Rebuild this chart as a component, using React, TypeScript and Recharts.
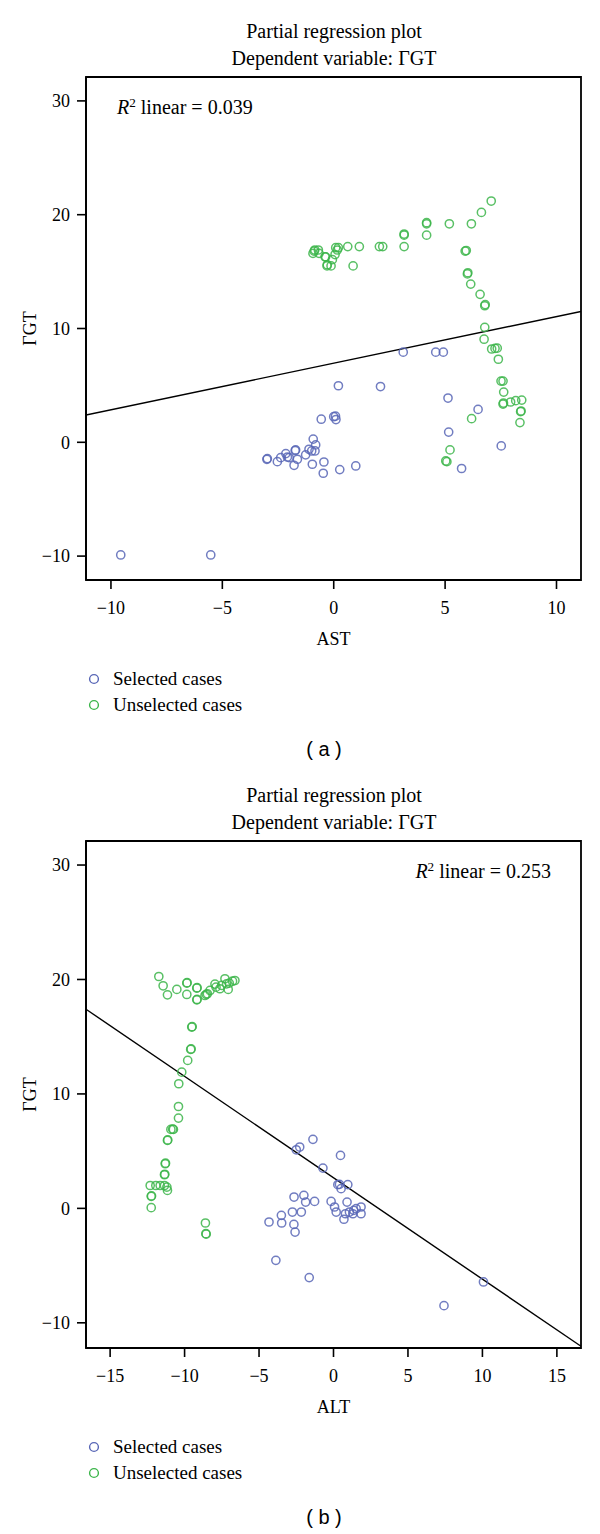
import {
  ReferenceArea,
  ReferenceLine,
  Scatter,
  ScatterChart,
  XAxis,
  YAxis,
} from "recharts";

type Pt = { x: number; y: number };

const astTicks = [-10, -5, 0, 5, 10];
const altTicks = [-15, -10, -5, 0, 5, 10, 15];
const ggtTicks = [-10, 0, 10, 20, 30];

const astDomain: [number, number] = [-11.12, 11.1];
const altDomain: [number, number] = [-16.62, 16.62];
const ggtDomainA: [number, number] = [-12.1, 32.1];
const ggtDomainB: [number, number] = [-12.2, 32.1];

// panel (a): AST
const astSelected: Pt[] = [
  { x: -9.56, y: -9.9 }, { x: -5.52, y: -9.9 },
  { x: 0.21, y: 4.97 }, { x: 2.1, y: 4.9 },
  { x: 3.12, y: 7.92 }, { x: 4.58, y: 7.92 }, { x: 4.92, y: 7.92 },
  { x: 5.13, y: 3.89 }, { x: 6.48, y: 2.89 }, { x: 5.16, y: 0.9 },
  { x: 7.52, y: -0.32 }, { x: 5.74, y: -2.3 },
  { x: -0.56, y: 2.03 }, { x: 0.0, y: 2.25 }, { x: 0.08, y: 2.3 }, { x: 0.1, y: 2.0 },
  { x: -0.92, y: 0.28 }, { x: -0.81, y: -0.23 }, { x: -0.99, y: -0.76 },
  { x: -0.84, y: -0.76 }, { x: -1.11, y: -0.61 }, { x: -1.26, y: -1.1 },
  { x: -1.71, y: -0.67 }, { x: -1.73, y: -0.72 }, { x: -1.63, y: -1.49 },
  { x: -1.78, y: -2.02 }, { x: -2.0, y: -1.35 }, { x: -2.08, y: -1.29 },
  { x: -2.15, y: -0.99 }, { x: -2.38, y: -1.35 }, { x: -2.53, y: -1.7 },
  { x: -2.98, y: -1.43 }, { x: -3.0, y: -1.5 },
  { x: -0.96, y: -1.93 }, { x: -0.44, y: -1.73 }, { x: -0.47, y: -2.72 },
  { x: 0.27, y: -2.4 }, { x: 0.99, y: -2.08 },
];

const astUnselected: Pt[] = [
  { x: 7.07, y: 21.2 }, { x: 6.63, y: 20.2 }, { x: 6.18, y: 19.2 },
  { x: 5.19, y: 19.2 }, { x: 4.17, y: 19.2 }, { x: 4.17, y: 19.3 },
  { x: 4.17, y: 18.2 }, { x: 3.16, y: 18.2 }, { x: 3.16, y: 18.3 },
  { x: 3.16, y: 17.2 }, { x: 2.05, y: 17.2 }, { x: 2.2, y: 17.2 },
  { x: 1.15, y: 17.2 }, { x: 0.63, y: 17.2 },
  { x: 0.21, y: 17.1 }, { x: 0.16, y: 16.9 }, { x: 0.09, y: 17.1 },
  { x: 0.06, y: 16.5 }, { x: -0.06, y: 16.05 }, { x: -0.12, y: 15.5 },
  { x: -0.3, y: 15.5 }, { x: -0.29, y: 15.6 }, { x: -0.39, y: 16.3 },
  { x: -0.36, y: 16.3 }, { x: -0.69, y: 16.9 }, { x: -0.93, y: 16.6 },
  { x: -0.85, y: 16.9 }, { x: -0.88, y: 16.8 }, { x: -0.66, y: 16.6 },
  { x: 0.87, y: 15.5 },
  { x: 5.9, y: 16.8 }, { x: 5.95, y: 16.85 }, { x: 6.0, y: 14.8 },
  { x: 6.02, y: 14.9 }, { x: 6.15, y: 13.9 }, { x: 6.57, y: 13.0 },
  { x: 6.78, y: 12.0 }, { x: 6.8, y: 12.1 }, { x: 6.78, y: 10.1 },
  { x: 6.75, y: 9.06 },
  { x: 7.09, y: 8.2 }, { x: 7.24, y: 8.25 }, { x: 7.34, y: 8.27 },
  { x: 7.39, y: 7.3 }, { x: 7.51, y: 5.38 }, { x: 7.6, y: 5.38 },
  { x: 7.63, y: 4.41 }, { x: 7.6, y: 3.36 }, { x: 7.62, y: 3.45 },
  { x: 7.94, y: 3.54 }, { x: 8.17, y: 3.66 }, { x: 8.44, y: 3.71 },
  { x: 8.39, y: 2.69 }, { x: 8.41, y: 2.75 }, { x: 8.36, y: 1.73 },
  { x: 6.19, y: 2.08 }, { x: 5.22, y: -0.67 }, { x: 5.03, y: -1.64 },
  { x: 5.08, y: -1.7 },
];

const astFit: Pt[] = [
  { x: -11.12, y: 2.4 },
  { x: 11.1, y: 11.5 },
];

// panel (b): ALT
const altSelected: Pt[] = [
  { x: -1.38, y: 6.03 }, { x: -2.5, y: 5.12 }, { x: -2.27, y: 5.36 },
  { x: 0.47, y: 4.63 }, { x: -0.71, y: 3.52 },
  { x: 0.29, y: 2.07 }, { x: 0.4, y: 2.1 }, { x: 0.51, y: 1.72 }, { x: 0.96, y: 2.07 },
  { x: -2.65, y: 0.99 }, { x: -1.99, y: 1.14 }, { x: -1.87, y: 0.55 },
  { x: -1.27, y: 0.61 }, { x: -0.16, y: 0.61 }, { x: 0.07, y: 0.12 },
  { x: 0.91, y: 0.55 }, { x: 0.18, y: -0.32 }, { x: 0.8, y: -0.47 },
  { x: 1.07, y: -0.32 }, { x: 1.36, y: -0.17 }, { x: 1.52, y: -0.03 },
  { x: 1.85, y: 0.12 }, { x: 1.85, y: -0.47 }, { x: 1.3, y: -0.47 },
  { x: 0.7, y: -0.95 },
  { x: -2.16, y: -0.32 }, { x: -2.76, y: -0.32 }, { x: -3.5, y: -0.61 },
  { x: -4.33, y: -1.19 }, { x: -3.48, y: -1.28 }, { x: -2.66, y: -1.4 },
  { x: -2.58, y: -2.07 }, { x: -3.87, y: -4.54 }, { x: -1.63, y: -6.05 },
  { x: 10.07, y: -6.43 }, { x: 7.42, y: -8.5 },
];

const altUnselected: Pt[] = [
  { x: -11.73, y: 20.26 }, { x: -11.44, y: 19.45 }, { x: -11.15, y: 18.66 },
  { x: -10.52, y: 19.13 }, { x: -9.85, y: 19.68 }, { x: -9.83, y: 19.72 },
  { x: -9.85, y: 18.69 }, { x: -9.18, y: 19.24 }, { x: -9.16, y: 19.28 },
  { x: -9.18, y: 18.22 }, { x: -9.16, y: 18.26 },
  { x: -8.63, y: 18.6 }, { x: -8.47, y: 18.75 }, { x: -8.55, y: 18.7 },
  { x: -8.29, y: 19.04 }, { x: -7.96, y: 19.6 }, { x: -7.89, y: 19.33 },
  { x: -7.63, y: 19.19 }, { x: -7.51, y: 19.48 }, { x: -7.29, y: 20.06 },
  { x: -7.18, y: 19.62 }, { x: -7.0, y: 19.68 }, { x: -7.07, y: 19.13 },
  { x: -6.78, y: 19.85 }, { x: -6.62, y: 19.91 },
  { x: -9.52, y: 15.84 }, { x: -9.49, y: 15.88 }, { x: -9.59, y: 13.89 },
  { x: -9.56, y: 13.93 }, { x: -9.79, y: 12.93 }, { x: -10.19, y: 11.9 },
  { x: -10.39, y: 10.89 }, { x: -10.41, y: 8.9 }, { x: -10.41, y: 7.89 },
  { x: -10.92, y: 6.9 }, { x: -10.75, y: 6.9 }, { x: -10.8, y: 6.92 },
  { x: -11.15, y: 5.94 }, { x: -11.13, y: 5.98 }, { x: -11.3, y: 3.9 },
  { x: -11.28, y: 3.95 }, { x: -11.35, y: 2.94 }, { x: -11.33, y: 2.98 },
  { x: -12.31, y: 2.0 }, { x: -11.93, y: 2.0 }, { x: -11.64, y: 2.0 },
  { x: -11.35, y: 2.0 }, { x: -11.19, y: 1.86 }, { x: -11.15, y: 1.57 },
  { x: -12.24, y: 1.05 }, { x: -12.22, y: 1.09 }, { x: -12.24, y: 0.06 },
  { x: -8.6, y: -1.28 }, { x: -8.57, y: -2.21 }, { x: -8.55, y: -2.25 },
];

const altFit: Pt[] = [
  { x: -16.62, y: 17.4 },
  { x: 16.62, y: -12.05 },
];

const BLUE = "#5866b6";
const GREEN = "#3cb54a";
const SERIF = '"Liberation Serif", "Times New Roman", serif';
const SANS = '"Liberation Sans", Arial, sans-serif';

const fmtTick = (v: number) => (v < 0 ? `\u2212${-v}` : `${v}`);

function ring(color: string) {
  return (p: any) => (
    <circle
      cx={p.cx}
      cy={p.cy}
      r={4.1}
      fill="none"
      stroke={color}
      strokeOpacity={0.85}
      strokeWidth={1.5}
    />
  );
}

type PanelProps = {
  height: number;
  plotHeight: number;
  xLabel: string;
  xDomain: [number, number];
  xTicks: number[];
  yDomain: [number, number];
  selected: Pt[];
  unselected: Pt[];
  fit: Pt[];
  r2: string;
  r2Right: boolean;
  caption: string;
};

function Panel(props: PanelProps) {
  const { height, plotHeight, xDomain, yDomain } = props;
  const boxTop = 77;
  const boxBottom = boxTop + plotHeight;
  const axisH = 70;

  return (
    <div style={{ position: "relative", width: 600, height, fontFamily: SERIF, color: "#000" }}>
      <ScatterChart
        width={600}
        height={height}
        margin={{ top: boxTop, right: 19, bottom: height - boxBottom - axisH, left: 0 }}
      >
        <ReferenceArea
          x1={xDomain[0]}
          x2={xDomain[1]}
          y1={yDomain[0]}
          y2={yDomain[1]}
          fill="none"
          stroke="#000"
          strokeWidth={1.8}
        />
        <XAxis
          type="number"
          dataKey="x"
          domain={xDomain}
          ticks={props.xTicks}
          allowDataOverflow
          height={axisH}
          tickSize={9}
          tickMargin={12}
          tickFormatter={fmtTick}
          axisLine={{ stroke: "#000", strokeWidth: 1.8 }}
          tickLine={{ stroke: "#000", strokeWidth: 1.6 }}
          tick={{ fill: "#000", fontSize: 18, fontFamily: SERIF }}
          label={{
            value: props.xLabel,
            position: "insideTop",
            offset: 52,
            fill: "#000",
            fontSize: 18,
            fontFamily: SERIF,
          }}
        />
        <YAxis
          type="number"
          dataKey="y"
          domain={yDomain}
          ticks={ggtTicks}
          allowDataOverflow
          width={86}
          tickSize={9}
          tickMargin={7}
          tickFormatter={fmtTick}
          axisLine={{ stroke: "#000", strokeWidth: 1.8 }}
          tickLine={{ stroke: "#000", strokeWidth: 1.6 }}
          tick={{ fill: "#000", fontSize: 18, fontFamily: SERIF }}
          label={{
            value: "\u0393GT",
            angle: -90,
            position: "insideLeft",
            offset: 30,
            fill: "#000",
            fontSize: 18,
            fontFamily: SERIF,
            style: { textAnchor: "middle" },
          }}
        />
        <ReferenceLine
          segment={props.fit}
          stroke="#000"
          strokeWidth={1.4}
          ifOverflow="hidden"
        />
        <Scatter data={props.selected} isAnimationActive={false} shape={ring(BLUE)} />
        <Scatter data={props.unselected} isAnimationActive={false} shape={ring(GREEN)} />
      </ScatterChart>

      <div
        style={{
          position: "absolute",
          left: 0,
          top: 18,
          width: 668,
          textAlign: "center",
          fontSize: 20,
          lineHeight: "27px",
          pointerEvents: "none",
        }}
      >
        <div>Partial regression plot</div>
        <div>Dependent variable: {"\u0393"}GT</div>
      </div>

      <div
        style={{
          position: "absolute",
          top: boxTop + 30 - 12,
          lineHeight: "24px",
          fontSize: 20,
          whiteSpace: "nowrap",
          ...(props.r2Right ? { right: 600 - 551 } : { left: 117 }),
        }}
      >
        <i>R</i>
        <span style={{ fontSize: "0.66em", position: "relative", top: "-0.55em" }}>2</span>{" "}
        linear = {props.r2}
      </div>

      {[
        { label: "Selected cases", color: BLUE, dy: 98.5 },
        { label: "Unselected cases", color: GREEN, dy: 124.5 },
      ].map((item) => (
        <div
          key={item.label}
          style={{
            position: "absolute",
            left: 88,
            top: boxBottom + item.dy - 12,
            height: 24,
            display: "flex",
            alignItems: "center",
            fontSize: 19,
            whiteSpace: "nowrap",
          }}
        >
          <svg width={12} height={12} style={{ marginRight: 13 }}>
            <circle cx={6} cy={6} r={4.4} fill="none" stroke={item.color} strokeWidth={1.4} />
          </svg>
          <span>{item.label}</span>
        </div>
      ))}

      <div
        style={{
          position: "absolute",
          left: 224,
          width: 200,
          top: boxBottom + 169 - 14,
          lineHeight: "28px",
          textAlign: "center",
          fontFamily: SANS,
          fontSize: 20,
          whiteSpace: "pre",
        }}
      >
        {props.caption}
      </div>
    </div>
  );
}

export default function App() {
  return (
    <div style={{ width: 600, height: 1534, background: "#fff" }}>
      <style>
        {`body{margin:0;} .recharts-text, .recharts-cartesian-axis-tick-value { font-family: ${SERIF}; }`}
      </style>
      <Panel
        height={764}
        plotHeight={503}
        xLabel="AST"
        xDomain={astDomain}
        xTicks={astTicks}
        yDomain={ggtDomainA}
        selected={astSelected}
        unselected={astUnselected}
        fit={astFit}
        r2="0.039"
        r2Right={false}
        caption="( a )"
      />
      <Panel
        height={770}
        plotHeight={507}
        xLabel="ALT"
        xDomain={altDomain}
        xTicks={altTicks}
        yDomain={ggtDomainB}
        selected={altSelected}
        unselected={altUnselected}
        fit={altFit}
        r2="0.253"
        r2Right={true}
        caption="( b )"
      />
    </div>
  );
}
